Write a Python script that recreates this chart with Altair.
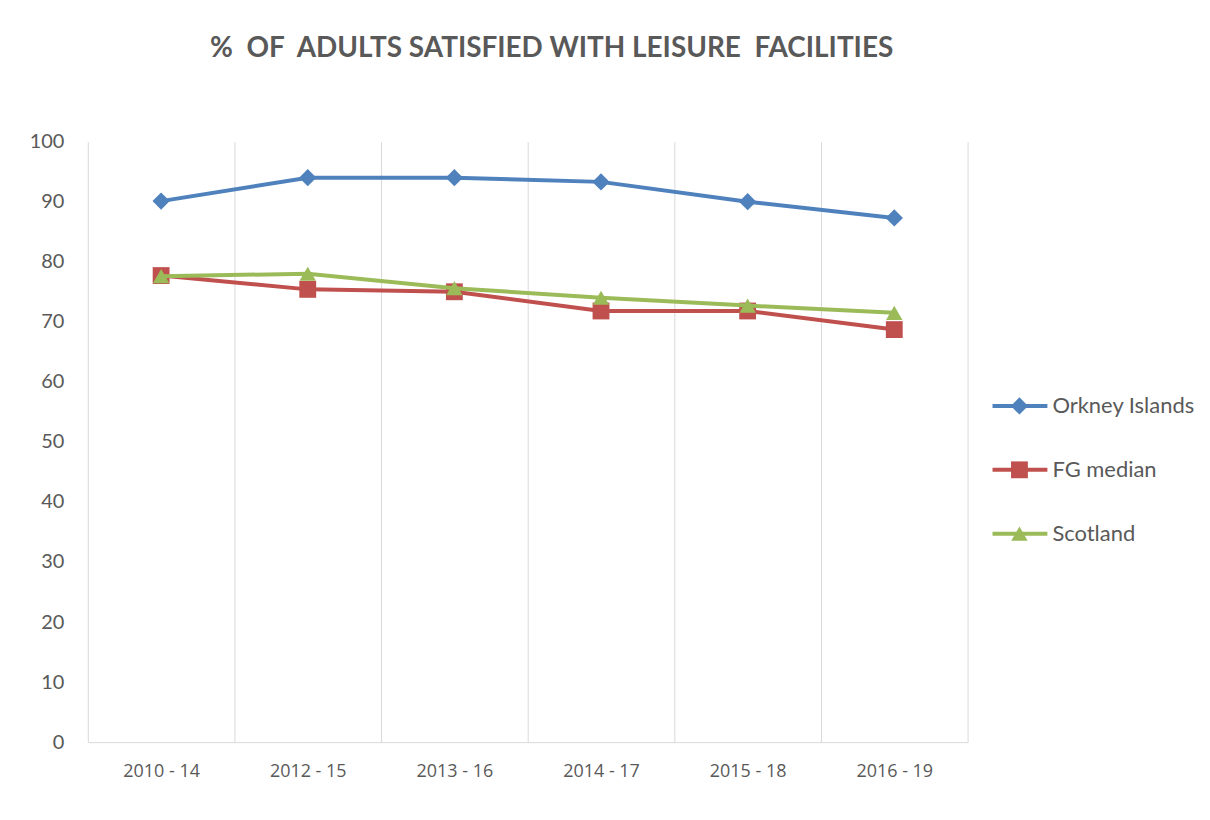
import altair as alt
import pandas as pd

periods = ["2010 - 14", "2012 - 15", "2013 - 16", "2014 - 17", "2015 - 18", "2016 - 19"]
series_names = ["Orkney Islands", "FG median", "Scotland"]
orkney = [90.1, 94.0, 94.0, 93.3, 90.0, 87.3]
fg_median = [77.7, 75.4, 75.0, 71.8, 71.8, 68.7]
scotland = [77.6, 78.0, 75.6, 74.0, 72.7, 71.5]
y_ticks = [0, 10, 20, 30, 40, 50, 60, 70, 80, 90, 100]
title_text = "%\u00a0\u00a0OF\u00a0\u00a0ADULTS SATISFIED WITH LEISURE\u00a0\u00a0FACILITIES"

colors = ["#4F81BD", "#C0504D", "#9BBB59"]
shapes = ["diamond", "square", "triangle-up"]
marker_sizes = [300, 270, 420]
TXT = "#595959"
FONT = "Lato"

rows = []
for name, vals in zip(series_names, [orkney, fg_median, scotland]):
    for p, v in zip(periods, vals):
        rows.append({"period": p, "series": name, "value": v})
df = pd.DataFrame(rows)
leg_df = pd.DataFrame({"series": series_names})

color_enc = alt.Color("series:N", scale=alt.Scale(domain=series_names, range=colors), legend=None)
shape_enc = alt.Shape("series:N", scale=alt.Scale(domain=series_names, range=shapes), legend=None)
size_enc = alt.Size("series:N", scale=alt.Scale(domain=series_names, range=marker_sizes), legend=None)

x_enc = alt.X(
    "period:N", sort=periods, bandPosition=0.5,
    scale=alt.Scale(type="band", domain=periods, paddingInner=0, paddingOuter=0),
    axis=alt.Axis(title=None, labelAngle=0, tickBand="extent", grid=True, gridColor="#d9d9d9",
                  gridWidth=1, ticks=False, domainColor="#d9d9d9", domainWidth=1,
                  labelPadding=20, labelFontSize=18, labelColor=TXT, labelFont="Open Sans"),
)
y_enc = alt.Y(
    "value:Q",
    scale=alt.Scale(domain=[0, 100], nice=False),
    axis=alt.Axis(title=None, values=y_ticks, grid=False, ticks=False, domain=False,
                  labelPadding=24, labelFontSize=20, labelColor=TXT, labelFont=FONT,
                  minExtent=80, maxExtent=80),
)

layers = []
for name in series_names:
    base = alt.Chart(df).transform_filter(alt.datum.series == name)
    layers.append(base.mark_line(strokeWidth=4).encode(x=x_enc, y=y_enc, color=color_enc))
    layers.append(
        base.mark_point(filled=True, opacity=1, strokeWidth=0).encode(
            x=x_enc, y=y_enc, color=color_enc, shape=shape_enc, size=size_enc
        )
    )

main = alt.layer(*layers).properties(
    width=882, height=602,
    title=alt.Title(title_text, fontSize=28, font=FONT,
                    fontWeight="bold", color=TXT, anchor="middle", dx=24, offset=69),
)

ly = alt.Y("series:N", sort=series_names,
           scale=alt.Scale(type="point", domain=series_names, range=[265, 393], padding=0),
           axis=None)
leg_base = alt.Chart(leg_df)
leg = alt.layer(
    leg_base.mark_rule(strokeWidth=4).encode(x=alt.value(0), x2=alt.value(55), y=ly, color=color_enc),
    leg_base.mark_point(filled=True, opacity=1, strokeWidth=0).encode(
        x=alt.value(27), y=ly, color=color_enc, shape=shape_enc, size=size_enc),
    leg_base.mark_text(align="left", baseline="middle", fontSize=22, font=FONT, color=TXT).encode(
        x=alt.value(60), y=ly, text="series:N"),
).properties(width=210, height=602)

chart = alt.hconcat(main, leg, spacing=25, bounds="flush").resolve_scale(
    x="independent", y="independent"
).properties(
    padding={"left": 0, "top": 26, "right": 0, "bottom": 10}, background="white"
).configure_view(stroke=None)

chart.save("out.html", embed_options={"renderer": "svg", "actions": False})
